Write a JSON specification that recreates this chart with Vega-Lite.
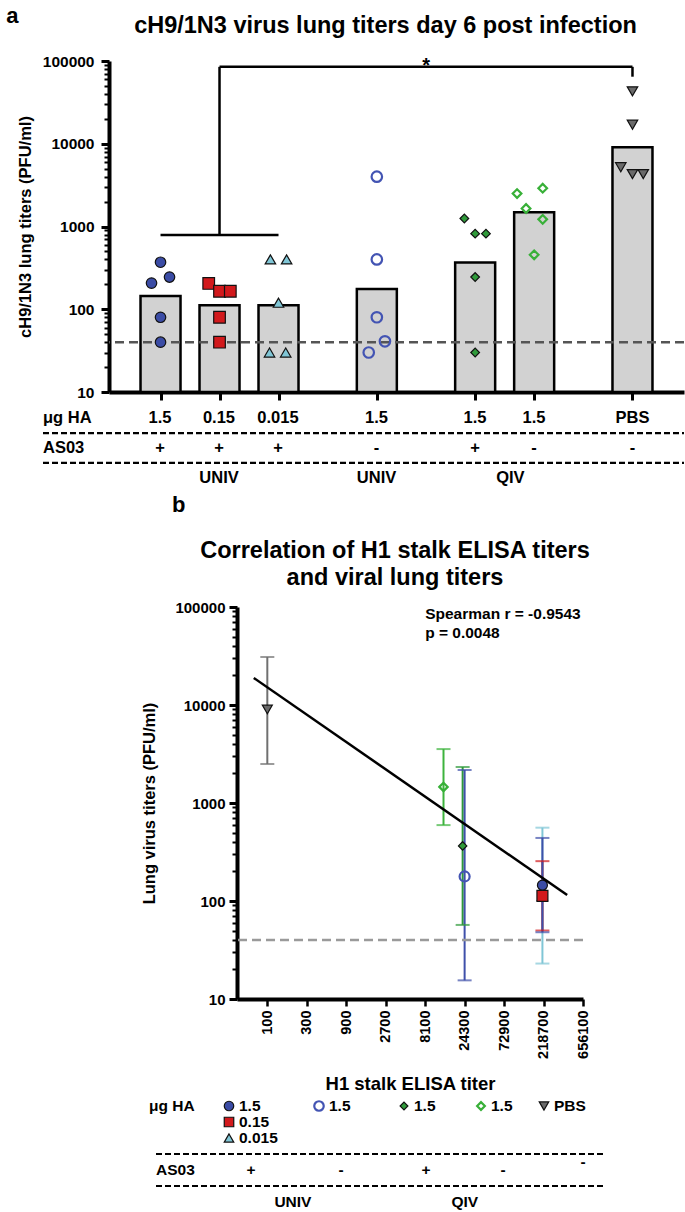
{
  "$schema": "https://vega.github.io/schema/vega-lite/v6.json",
  "background": "white",
  "padding": {"left": 6, "top": 4, "right": 0, "bottom": 0},
  "spacing": 6,
  "config": {
    "view": {"stroke": null},
    "font": "Liberation Sans",
    "title": {"font": "Liberation Sans", "fontWeight": "bold", "color": "black"},
    "axis": {"labelFont": "Liberation Sans", "labelFontWeight": "bold", "labelColor": "black", "titleFont": "Liberation Sans", "titleFontWeight": "bold", "titleColor": "black", "domainColor": "black", "tickColor": "black", "grid": false},
    "legend": {"disable": true},
    "text": {"font": "Liberation Sans", "fontWeight": "bold", "color": "black"}
  },
  "datasets": {
    "barsA": [
      {"grp": "U+1.5", "gm": 145},
      {"grp": "U+0.15", "gm": 112},
      {"grp": "U+0.015", "gm": 112},
      {"grp": "U-1.5", "gm": 176},
      {"grp": "Q+1.5", "gm": 368},
      {"grp": "Q-1.5", "gm": 1490},
      {"grp": "PBS", "gm": 9100}
    ],
    "ptsA": [
      {"grp": "U+1.5", "v": 370, "j": 0},
      {"grp": "U+1.5", "v": 245, "j": 1},
      {"grp": "U+1.5", "v": 207, "j": -1},
      {"grp": "U+1.5", "v": 80, "j": 0},
      {"grp": "U+1.5", "v": 40, "j": 0},
      {"grp": "U+0.15", "v": 205, "j": -1.2},
      {"grp": "U+0.15", "v": 165, "j": 0},
      {"grp": "U+0.15", "v": 165, "j": 1.2},
      {"grp": "U+0.15", "v": 80, "j": 0},
      {"grp": "U+0.15", "v": 40, "j": 0},
      {"grp": "U+0.015", "v": 400, "j": -0.9},
      {"grp": "U+0.015", "v": 400, "j": 0.9},
      {"grp": "U+0.015", "v": 120, "j": 0},
      {"grp": "U+0.015", "v": 30, "j": -1},
      {"grp": "U+0.015", "v": 30, "j": 0.8},
      {"grp": "U-1.5", "v": 4000, "j": 0},
      {"grp": "U-1.5", "v": 400, "j": 0},
      {"grp": "U-1.5", "v": 80, "j": 0},
      {"grp": "U-1.5", "v": 41, "j": 0.9},
      {"grp": "U-1.5", "v": 30, "j": -0.9},
      {"grp": "Q+1.5", "v": 1250, "j": -1.2},
      {"grp": "Q+1.5", "v": 820, "j": 0},
      {"grp": "Q+1.5", "v": 820, "j": 1.2},
      {"grp": "Q+1.5", "v": 245, "j": 0},
      {"grp": "Q+1.5", "v": 30, "j": 0},
      {"grp": "Q-1.5", "v": 2500, "j": -1.9},
      {"grp": "Q-1.5", "v": 2900, "j": 0.95},
      {"grp": "Q-1.5", "v": 1650, "j": -0.9},
      {"grp": "Q-1.5", "v": 1220, "j": 0.95},
      {"grp": "Q-1.5", "v": 455, "j": 0},
      {"grp": "PBS", "v": 43000, "j": 0},
      {"grp": "PBS", "v": 17000, "j": 0},
      {"grp": "PBS", "v": 5200, "j": -1.3},
      {"grp": "PBS", "v": 4300, "j": 0},
      {"grp": "PBS", "v": 4300, "j": 1.2}
    ],
    "vbr": [
      {"grp": "U+0.15", "lo": 790, "hi": 85000},
      {"grp": "PBS", "lo": 64600, "hi": 85000}
    ],
    "hbr": [
      {"c1": "U+1.5", "c2": "U+0.015", "v": 790},
      {"c1": "U+0.15", "c2": "PBS", "v": 85000}
    ],
    "tabA": [
      {"row": "dose", "col": 1, "t": "1.5"},
      {"row": "dose", "col": 2, "t": "0.15"},
      {"row": "dose", "col": 3, "t": "0.015"},
      {"row": "dose", "col": 4, "t": "1.5"},
      {"row": "dose", "col": 5, "t": "1.5"},
      {"row": "dose", "col": 6, "t": "1.5"},
      {"row": "dose", "col": 7, "t": "PBS"},
      {"row": "as03", "col": 1, "t": "+"},
      {"row": "as03", "col": 2, "t": "+"},
      {"row": "as03", "col": 3, "t": "+"},
      {"row": "as03", "col": 4, "t": "-"},
      {"row": "as03", "col": 5, "t": "+"},
      {"row": "as03", "col": 6, "t": "-"},
      {"row": "as03", "col": 7, "t": "-"},
      {"row": "grp", "col": 2, "t": "UNIV"},
      {"row": "grp", "col": 4, "t": "UNIV"},
      {"row": "grp", "col": 5.6, "t": "QIV"}
    ],
    "tabAlab": [
      {"row": "dose", "t": "μg HA"},
      {"row": "as03", "t": "AS03"}
    ],
    "corr": [
      {"grp": "PBS", "elisa": 100, "gm": 9000, "lo": 2500, "hi": 30900},
      {"grp": "Q-1.5", "elisa": 13500, "gm": 1460, "lo": 595, "hi": 3550},
      {"grp": "Q+1.5", "elisa": 23000, "gm": 365, "lo": 57, "hi": 2330},
      {"grp": "U-1.5", "elisa": 24300, "gm": 178, "lo": 15.5, "hi": 2170},
      {"grp": "U+0.015", "elisa": 212000, "gm": 112, "lo": 23, "hi": 560},
      {"grp": "U+0.15", "elisa": 212000, "gm": 113, "lo": 50, "hi": 255},
      {"grp": "U+1.5", "elisa": 212000, "gm": 145, "lo": 48, "hi": 440}
    ],
    "fit": [
      {"elisa": 68.6, "v": 18900},
      {"elisa": 422000, "v": 115}
    ],
    "legB": [
      {"col": 1, "row": "r1", "grp": "U+1.5", "lab": "1.5"},
      {"col": 1, "row": "r2", "grp": "U+0.15", "lab": "0.15"},
      {"col": 1, "row": "r3", "grp": "U+0.015", "lab": "0.015"},
      {"col": 2, "row": "r1", "grp": "U-1.5", "lab": "1.5"},
      {"col": 3, "row": "r1", "grp": "Q+1.5", "lab": "1.5"},
      {"col": 4, "row": "r1", "grp": "Q-1.5", "lab": "1.5"},
      {"col": 5, "row": "r1", "grp": "PBS", "lab": "PBS"}
    ],
    "legSigns": [
      {"col": 1, "row": "as03", "t": "+"},
      {"col": 2, "row": "as03", "t": "-"},
      {"col": 3, "row": "as03", "t": "+"},
      {"col": 4, "row": "as03", "t": "-"}
    ],
    "legGroups": [
      {"col": 1.71, "row": "grp", "t": "UNIV"},
      {"col": 3.79, "row": "grp", "t": "QIV"}
    ]
  },
  "vconcat": [
    {
      "title": {"text": "a", "anchor": "start", "fontSize": 22, "dx": -11, "dy": 14, "offset": 0},
      "spacing": 8,
      "vconcat": [
        {
          "width": 575,
          "height": 331,
          "title": {"text": "cH9/1N3 virus lung titers day 6 post infection", "fontSize": 23.5, "anchor": "middle", "frame": "group", "dx": -11, "offset": 17},
          "layer": [
            {
              "data": {"name": "barsA"},
              "mark": {"type": "bar", "size": 40, "fill": "#d2d2d2", "stroke": "black", "strokeWidth": 2.5},
              "encoding": {
                "x": {"field": "grp", "type": "nominal",
                  "scale": {"type": "point", "padding": 0.62, "domain": ["l1","l2","U+1.5","p1","p2","U+0.15","p4","p5","U+0.015","p7","p8","p9","p10","U-1.5","p12","p13","p14","p15","Q+1.5","p17","p18","Q-1.5","p20","p21","p22","p23","PBS","r1","r2"]},
                  "axis": {"values": ["U+1.5","U+0.15","U+0.015","U-1.5","Q+1.5","Q-1.5","PBS"], "labels": false, "tickSize": 8, "tickWidth": 3, "domainWidth": 4, "title": null}},
                "y": {"field": "gm", "type": "quantitative",
                  "scale": {"type": "log", "domain": [10, 100000], "nice": false},
                  "axis": {
                    "values": [10,20,30,40,50,60,70,80,90,100,200,300,400,500,600,700,800,900,1000,2000,3000,4000,5000,6000,7000,8000,9000,10000,20000,30000,40000,50000,60000,70000,80000,90000,100000],
                    "format": "d",
                    "labelExpr": "indexof([10,100,1000,10000,100000], datum.value) >= 0 ? datum.label : ''",
                    "tickSize": {"condition": {"test": "indexof([10,100,1000,10000,100000], datum.value) >= 0", "value": 8}, "value": 5},
                    "tickWidth": {"condition": {"test": "indexof([10,100,1000,10000,100000], datum.value) >= 0", "value": 3}, "value": 2},
                    "domainWidth": 4,
                    "labelFontSize": 15.5,
                    "labelPadding": 7,
                    "labelOverlap": false,
                    "labelFlush": false,
                    "title": "cH9/1N3 lung titers (PFU/ml)",
                    "titleFontSize": 16.5,
                    "titlePadding": 9
                  }},
                "y2": {"datum": 10}
              }
            },
            {
              "data": {"values": [{}]},
              "mark": {"type": "rule", "strokeDash": [9, 5], "strokeWidth": 2.5, "color": "#555555"},
              "encoding": {"y": {"datum": 40}}
            },
            {
              "data": {"name": "ptsA"},
              "mark": {"type": "point", "filled": true, "opacity": 1},
              "encoding": {
                "x": {"field": "grp", "type": "nominal"},
                "xOffset": {"field": "j", "type": "quantitative", "scale": {"domain": [-1, 1], "range": [-9, 9], "zero": false, "nice": false}},
                "y": {"field": "v", "type": "quantitative"},
                "shape": {"field": "grp", "type": "nominal", "scale": {"domain": ["U+1.5","U+0.15","U+0.015","U-1.5","Q+1.5","Q-1.5","PBS"], "range": ["circle","square","triangle-up","circle","diamond","diamond","triangle-down"]}},
                "fill": {"field": "grp", "type": "nominal", "scale": {"domain": ["U+1.5","U+0.15","U+0.015","U-1.5","Q+1.5","Q-1.5","PBS"], "range": ["#3B4CA5","#D2191C","#80C6D6","rgba(255,255,255,0)","#2F9A3A","rgba(255,255,255,0)","#6A6A6A"]}},
                "stroke": {"field": "grp", "type": "nominal", "scale": {"domain": ["U+1.5","U+0.15","U+0.015","U-1.5","Q+1.5","Q-1.5","PBS"], "range": ["#111111","#111111","#111111","#4354B3","#111111","#38B038","#111111"]}},
                "strokeWidth": {"condition": {"test": "datum.grp == 'U-1.5' || datum.grp == 'Q-1.5'", "value": 2.2}, "value": 1.2},
                "size": {"condition": [{"test": "datum.grp == 'U+0.15'", "value": 135}, {"test": "datum.grp == 'Q+1.5' || datum.grp == 'Q-1.5'", "value": 75}], "value": 110}
              }
            },
            {
              "data": {"name": "vbr"},
              "mark": {"type": "rule", "strokeWidth": 2.5, "color": "black"},
              "encoding": {
                "x": {"field": "grp", "type": "nominal"},
                "y": {"field": "lo", "type": "quantitative"},
                "y2": {"field": "hi"}
              }
            },
            {
              "data": {"name": "hbr"},
              "mark": {"type": "rule", "strokeWidth": 2.5, "color": "black"},
              "encoding": {
                "x": {"field": "c1", "type": "nominal"},
                "x2": {"field": "c2"},
                "y": {"field": "v", "type": "quantitative"}
              }
            },
            {
              "data": {"values": [{"slot": "p13"}]},
              "mark": {"type": "text", "text": "*", "fontSize": 20, "baseline": "alphabetic", "dy": 5, "dx": 10},
              "encoding": {"x": {"field": "slot", "type": "nominal"}, "y": {"datum": 85000}}
            }
          ]
        },
        {
          "width": 575,
          "height": 74,
          "layer": [
            {
              "data": {"name": "tabA"},
              "mark": {"type": "text", "fontSize": 16.5},
              "encoding": {
                "x": {"field": "col", "type": "quantitative",
                  "scale": {"domain": [-1, 1, 2, 3, 4, 5, 6, 7, 8], "range": [-66, 51, 110, 169, 267.5, 366, 425, 523.5, 575], "nice": false, "zero": false},
                  "axis": null},
                "y": {"field": "row", "type": "nominal", "scale": {"type": "point", "domain": ["dose", "s1", "as03", "s2", "grp"], "padding": 0.5}, "axis": null},
                "text": {"field": "t"}
              }
            },
            {
              "data": {"name": "tabAlab"},
              "mark": {"type": "text", "fontSize": 16.5, "align": "left"},
              "encoding": {
                "x": {"datum": -1},
                "y": {"field": "row", "type": "nominal"},
                "text": {"field": "t"}
              }
            },
            {
              "data": {"values": [{"row": "s1"}, {"row": "s2"}]},
              "mark": {"type": "rule", "strokeDash": [6, 3], "strokeWidth": 2.2, "color": "black"},
              "encoding": {
                "x": {"datum": -1},
                "x2": {"datum": 8},
                "y": {"field": "row", "type": "nominal"}
              }
            }
          ]
        }
      ]
    },
    {
      "spacing": 0,
      "hconcat": [
        {
          "width": 32,
          "height": 20,
          "data": {"values": [{"a": 0}]},
          "mark": {"type": "point", "opacity": 0}
        },
        {
          "title": {"text": "b", "anchor": "start", "fontSize": 22, "dx": 30, "offset": 22},
          "spacing": 3,
          "vconcat": [
            {
              "width": 346,
              "height": 392,
              "title": {"text": ["Correlation of H1 stalk ELISA titers", "and viral lung titers"], "fontSize": 23.5, "lineHeight": 27, "anchor": "middle", "frame": "group", "dx": -15, "offset": 11},
              "layer": [
                {
                  "data": {"name": "corr"},
                  "mark": {"type": "rule", "strokeWidth": 2},
                  "encoding": {
                    "x": {"field": "elisa", "type": "quantitative",
                      "scale": {"type": "log", "domain": [43, 656100], "nice": false},
                      "axis": {"values": [100, 300, 900, 2700, 8100, 24300, 72900, 218700, 656100], "format": "d", "labelAngle": -90, "labelFontSize": 14.5, "labelPadding": 4, "tickSize": 7, "tickWidth": 2.5, "domainWidth": 4, "labelOverlap": false, "labelFlush": false, "title": "H1 stalk ELISA titer", "titleFontSize": 18.5, "titlePadding": 16}},
                    "y": {"field": "lo", "type": "quantitative",
                      "scale": {"type": "log", "domain": [10, 100000], "nice": false},
                      "axis": {
                        "values": [10,20,30,40,50,60,70,80,90,100,200,300,400,500,600,700,800,900,1000,2000,3000,4000,5000,6000,7000,8000,9000,10000,20000,30000,40000,50000,60000,70000,80000,90000,100000],
                        "format": "d",
                        "labelExpr": "indexof([10,100,1000,10000,100000], datum.value) >= 0 ? datum.label : ''",
                        "tickSize": {"condition": {"test": "indexof([10,100,1000,10000,100000], datum.value) >= 0", "value": 8}, "value": 5},
                        "tickWidth": {"condition": {"test": "indexof([10,100,1000,10000,100000], datum.value) >= 0", "value": 3}, "value": 2},
                        "domainWidth": 4,
                        "labelFontSize": 15,
                        "labelPadding": 4,
                        "labelOverlap": false,
                        "labelFlush": false,
                        "title": "Lung virus titers (PFU/ml)",
                        "titleFontSize": 16.5,
                        "titlePadding": 17
                      }},
                    "y2": {"field": "hi"},
                    "color": {"field": "grp", "type": "nominal", "scale": {"domain": ["U+1.5","U+0.15","U+0.015","U-1.5","Q+1.5","Q-1.5","PBS"], "range": ["#3F50AA","#D2191C","#80C6D6","#3F50AA","#2F9A3A","#3DB33D","#707070"]}}
                  }
                },
                {
                  "data": {"name": "corr"},
                  "mark": {"type": "tick", "orient": "horizontal", "size": 14, "thickness": 2},
                  "encoding": {
                    "x": {"field": "elisa", "type": "quantitative"},
                    "y": {"field": "lo", "type": "quantitative"},
                    "color": {"field": "grp", "type": "nominal"}
                  }
                },
                {
                  "data": {"name": "corr"},
                  "mark": {"type": "tick", "orient": "horizontal", "size": 14, "thickness": 2},
                  "encoding": {
                    "x": {"field": "elisa", "type": "quantitative"},
                    "y": {"field": "hi", "type": "quantitative"},
                    "color": {"field": "grp", "type": "nominal"}
                  }
                },
                {
                  "data": {"values": [{}]},
                  "mark": {"type": "rule", "strokeDash": [9, 5], "strokeWidth": 2.5, "color": "#9a9a9a"},
                  "encoding": {"y": {"datum": 40}}
                },
                {
                  "data": {"name": "corr"},
                  "mark": {"type": "point", "filled": true, "opacity": 1},
                  "encoding": {
                    "x": {"field": "elisa", "type": "quantitative"},
                    "y": {"field": "gm", "type": "quantitative"},
                    "shape": {"field": "grp", "type": "nominal", "scale": {"domain": ["U+1.5","U+0.15","U+0.015","U-1.5","Q+1.5","Q-1.5","PBS"], "range": ["circle","square","triangle-up","circle","diamond","diamond","triangle-down"]}},
                    "fill": {"field": "grp", "type": "nominal", "scale": {"domain": ["U+1.5","U+0.15","U+0.015","U-1.5","Q+1.5","Q-1.5","PBS"], "range": ["#3B4CA5","#D2191C","#80C6D6","rgba(255,255,255,0)","#2F9A3A","rgba(255,255,255,0)","#6A6A6A"]}},
                    "stroke": {"field": "grp", "type": "nominal", "scale": {"domain": ["U+1.5","U+0.15","U+0.015","U-1.5","Q+1.5","Q-1.5","PBS"], "range": ["#111111","#111111","#111111","#4354B3","#111111","#38B038","#111111"]}},
                    "strokeWidth": {"condition": {"test": "datum.grp == 'U-1.5' || datum.grp == 'Q-1.5'", "value": 2.2}, "value": 1.2},
                    "size": {"condition": [{"test": "datum.grp == 'U+0.15'", "value": 120}, {"test": "datum.grp == 'Q+1.5' || datum.grp == 'Q-1.5'", "value": 70}], "value": 100}
                  }
                },
                {
                  "data": {"name": "fit"},
                  "mark": {"type": "line", "color": "black", "strokeWidth": 2.5},
                  "encoding": {
                    "x": {"field": "elisa", "type": "quantitative"},
                    "y": {"field": "v", "type": "quantitative"}
                  }
                },
                {
                  "data": {"values": [{}]},
                  "mark": {"type": "text", "text": ["Spearman r = -0.9543", "p = 0.0048"], "align": "left", "baseline": "top", "fontSize": 15.5, "lineHeight": 19},
                  "encoding": {"x": {"datum": 8100}, "y": {"datum": 100000}}
                }
              ]
            },
            {
              "width": 346,
              "height": 112,
              "layer": [
                {
                  "data": {"name": "legB"},
                  "mark": {"type": "point", "filled": true, "opacity": 1},
                  "encoding": {
                    "x": {"field": "col", "type": "quantitative",
                      "scale": {"domain": [0, 1, 2, 3, 4, 5, 6], "range": [-81, -8, 82, 167, 244, 307, 368], "nice": false, "zero": false},
                      "axis": null},
                    "y": {"field": "row", "type": "nominal", "scale": {"type": "point", "domain": ["r1", "r2", "r3", "s1", "as03", "s2", "grp"], "padding": 0.5}, "axis": null},
                    "shape": {"field": "grp", "type": "nominal", "scale": {"domain": ["U+1.5","U+0.15","U+0.015","U-1.5","Q+1.5","Q-1.5","PBS"], "range": ["circle","square","triangle-up","circle","diamond","diamond","triangle-down"]}},
                    "fill": {"field": "grp", "type": "nominal", "scale": {"domain": ["U+1.5","U+0.15","U+0.015","U-1.5","Q+1.5","Q-1.5","PBS"], "range": ["#3B4CA5","#D2191C","#80C6D6","rgba(255,255,255,0)","#2F9A3A","rgba(255,255,255,0)","#6A6A6A"]}},
                    "stroke": {"field": "grp", "type": "nominal", "scale": {"domain": ["U+1.5","U+0.15","U+0.015","U-1.5","Q+1.5","Q-1.5","PBS"], "range": ["#111111","#111111","#111111","#4354B3","#111111","#38B038","#111111"]}},
                    "strokeWidth": {"condition": {"test": "datum.grp == 'U-1.5' || datum.grp == 'Q-1.5'", "value": 2.2}, "value": 1.2},
                    "size": {"condition": [{"test": "datum.grp == 'Q+1.5' || datum.grp == 'Q-1.5'", "value": 60}], "value": 90}
                  }
                },
                {
                  "data": {"name": "legB"},
                  "mark": {"type": "text", "fontSize": 15.5, "align": "left", "dx": 10},
                  "encoding": {
                    "x": {"field": "col", "type": "quantitative"},
                    "y": {"field": "row", "type": "nominal"},
                    "text": {"field": "lab"}
                  }
                },
                {
                  "data": {"name": "legSigns"},
                  "mark": {"type": "text", "fontSize": 15.5, "dx": 22},
                  "encoding": {
                    "x": {"field": "col", "type": "quantitative"},
                    "y": {"field": "row", "type": "nominal"},
                    "text": {"field": "t"}
                  }
                },
                {
                  "data": {"values": [{"col": 5, "row": "as03", "t": "-"}]},
                  "mark": {"type": "text", "fontSize": 15.5, "dx": 39, "dy": -8},
                  "encoding": {
                    "x": {"field": "col", "type": "quantitative"},
                    "y": {"field": "row", "type": "nominal"},
                    "text": {"field": "t"}
                  }
                },
                {
                  "data": {"name": "legGroups"},
                  "mark": {"type": "text", "fontSize": 15.5},
                  "encoding": {
                    "x": {"field": "col", "type": "quantitative"},
                    "y": {"field": "row", "type": "nominal"},
                    "text": {"field": "t"}
                  }
                },
                {
                  "data": {"values": [{"row": "r1", "t": "μg HA"}]},
                  "mark": {"type": "text", "fontSize": 15.5, "align": "left", "dx": -7},
                  "encoding": {
                    "x": {"datum": 0},
                    "y": {"field": "row", "type": "nominal"},
                    "text": {"field": "t"}
                  }
                },
                {
                  "data": {"values": [{"row": "as03", "t": "AS03"}]},
                  "mark": {"type": "text", "fontSize": 15.5, "align": "left"},
                  "encoding": {
                    "x": {"datum": 0},
                    "y": {"field": "row", "type": "nominal"},
                    "text": {"field": "t"}
                  }
                },
                {
                  "data": {"values": [{"row": "s1"}, {"row": "s2"}]},
                  "mark": {"type": "rule", "strokeDash": [6, 3], "strokeWidth": 2, "color": "black"},
                  "encoding": {
                    "x": {"datum": 0},
                    "x2": {"datum": 6},
                    "y": {"field": "row", "type": "nominal"}
                  }
                }
              ]
            }
          ]
        }
      ]
    }
  ]
}
